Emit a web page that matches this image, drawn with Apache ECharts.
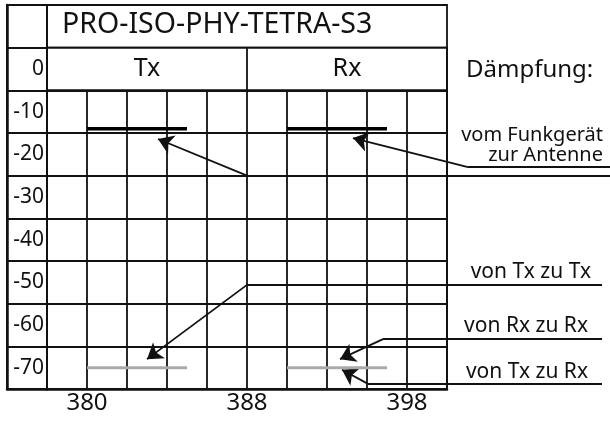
<!DOCTYPE html>
<html>
<head>
<meta charset="utf-8">
<script src="https://cdn.jsdelivr.net/npm/echarts@6/dist/echarts.min.js"></script>
<style>html,body{margin:0;padding:0;background:#fff;}#c{width:610px;height:421px;}</style>
</head>
<body>
<div id="c"></div>
<script>
// ---- data ----
const chartTitle = 'PRO-ISO-PHY-TETRA-S3';
const headerCats = ['Tx', 'Rx'];
const rowLabels = ['', '0', '-10', '-20', '-30', '-40', '-50', '-60', '-70']; // top to bottom
const dataRowLabels = ['-10', '-20', '-30', '-40', '-50', '-60', '-70'];
const xTickValues = [380, 388, 396];
const xTickTexts = ['380', '388', '398'];
const txBand = [380, 385];
const rxBand = [390, 395];
const antennaLevel = -14;   // vom Funkgerät zur Antenne
const isolationLevel = -70; // von Tx zu Rx etc.
const legendTitle = 'Dämpfung:';
const notes = ['vom Funkgerät\nzur Antenne', 'von Tx zu Tx', 'von Rx zu Rx', 'von Tx zu Rx'];
// leader lines (data units): horizontal part, then arrow part
const leaderFlat = [
  [[406.15, -25.0], [388.0, -25.0]],
  [[406.15, -23.0], [399.05, -23.0]],
  [[405.75, -50.6], [388.0, -50.6]],
  [[405.75, -63.3], [394.8, -63.3]],
  [[405.75, -73.8], [394.05, -73.8]]
];
const leaderArrow = [
  [[388.0, -25.0], [383.55, -16.4]],
  [[399.05, -23.0], [393.3, -16.2]],
  [[388.0, -50.6], [383.0, -68.0]],
  [[394.8, -63.3], [392.65, -68.0]],
  [[394.05, -73.8], [392.75, -70.5]]
];

// ---- chart ----
const F = '"Noto Sans", "DejaVu Sans", sans-serif';
const INK = '#111111';
const gl = { color: INK, width: 1.8 };
const H = 384 / 9;

const chart = echarts.init(document.getElementById('c'), null, { renderer: 'canvas' });
chart.setOption({
  animation: false,
  backgroundColor: '#fff',
  title: [
    { text: chartTitle, left: 62, top: 25, textAlign: 'left', textVerticalAlign: 'middle', padding: 0,
      textStyle: { fontFamily: F, fontSize: 28.5, fontWeight: 'normal', color: INK } },
    { text: legendTitle, left: 466, top: 70, textAlign: 'left', textVerticalAlign: 'middle', padding: 0,
      textStyle: { fontFamily: F, fontSize: 24, fontWeight: 'normal', color: INK } },
    { text: notes[0], left: 603, top: 145, textAlign: 'right', textVerticalAlign: 'middle', padding: 0,
      textStyle: { fontFamily: F, fontSize: 20, fontWeight: 'normal', color: INK, lineHeight: 20 } },
    { text: notes[1], left: 591, top: 272, textAlign: 'right', textVerticalAlign: 'middle', padding: 0,
      textStyle: { fontFamily: F, fontSize: 21, fontWeight: 'normal', color: INK } },
    { text: notes[2], left: 588, top: 326, textAlign: 'right', textVerticalAlign: 'middle', padding: 0,
      textStyle: { fontFamily: F, fontSize: 21, fontWeight: 'normal', color: INK } },
    { text: notes[3], left: 588, top: 372, textAlign: 'right', textVerticalAlign: 'middle', padding: 0,
      textStyle: { fontFamily: F, fontSize: 21, fontWeight: 'normal', color: INK } }
  ],
  grid: [
    { left: 7, top: 5, width: 40, height: 384, show: true, borderColor: INK, borderWidth: 1.8 },
    { left: 47, top: 5, width: 400, height: H, show: true, borderColor: INK, borderWidth: 1.8 },
    { left: 47, top: 5 + H, width: 400, height: H, show: true, borderColor: INK, borderWidth: 1.8 },
    { left: 47, top: 5 + 2 * H, width: 400, height: 7 * H, show: true, borderColor: INK, borderWidth: 1.8 }
  ],
  xAxis: [
    { gridIndex: 0, type: 'value', min: 0, max: 1, axisLine: { show: true, lineStyle: { color: INK, width: 2.5 } },
      axisTick: { show: false }, axisLabel: { show: false }, splitLine: { show: false } },
    { gridIndex: 1, type: 'value', show: false },
    { gridIndex: 2, type: 'category', data: headerCats, position: 'bottom',
      axisLine: { show: false }, axisTick: { show: false },
      splitLine: { show: true, interval: 0, lineStyle: gl },
      axisLabel: { inside: true, margin: H / 2, verticalAlign: 'middle', fontFamily: F, fontSize: 25, color: INK } },
    { gridIndex: 3, type: 'value', min: 378, max: 398, interval: 2,
      axisLine: { show: true, onZero: false, lineStyle: { color: INK, width: 2.5 } },
      axisTick: { show: false },
      splitLine: { show: true, lineStyle: gl },
      axisLabel: { margin: 2, fontFamily: F, fontSize: 24, color: INK,
        formatter: v => { const i = xTickValues.indexOf(v); return i >= 0 ? xTickTexts[i] : ''; } } }
  ],
  yAxis: [
    { gridIndex: 0, type: 'category', inverse: true, data: rowLabels, position: 'right',
      axisLine: { show: false }, axisTick: { show: false },
      splitLine: { show: true, interval: 0, lineStyle: gl },
      axisLabel: { inside: true, margin: 3, interval: 0, fontFamily: F, fontSize: 21, color: INK } },
    { gridIndex: 0, type: 'value', position: 'left', axisLine: { show: true, onZero: false, lineStyle: { color: INK, width: 2.5 } },
      axisTick: { show: false }, axisLabel: { show: false }, splitLine: { show: false } },
    { gridIndex: 1, type: 'value', show: false },
    { gridIndex: 2, type: 'value', show: false },
    { gridIndex: 3, type: 'value', min: -75, max: -5, show: false },
    { gridIndex: 3, type: 'category', inverse: true, data: dataRowLabels,
      axisLine: { show: false }, axisTick: { show: false }, axisLabel: { show: false },
      splitLine: { show: true, interval: 0, lineStyle: gl } }
  ],
  series: [
    { type: 'line', xAxisIndex: 3, yAxisIndex: 4, symbol: 'none', lineStyle: { color: '#000', width: 3.5 },
      data: [[txBand[0], antennaLevel], [txBand[1], antennaLevel]] },
    { type: 'line', xAxisIndex: 3, yAxisIndex: 4, symbol: 'none', lineStyle: { color: '#000', width: 3.5 },
      data: [[rxBand[0], antennaLevel], [rxBand[1], antennaLevel]] },
    { type: 'line', xAxisIndex: 3, yAxisIndex: 4, symbol: 'none', lineStyle: { color: '#aaaaaa', width: 3 },
      data: [[txBand[0], isolationLevel], [txBand[1], isolationLevel]] },
    { type: 'line', xAxisIndex: 3, yAxisIndex: 4, symbol: 'none', lineStyle: { color: '#aaaaaa', width: 3 },
      data: [[rxBand[0], isolationLevel], [rxBand[1], isolationLevel]] },
    { type: 'lines', coordinateSystem: 'cartesian2d', xAxisIndex: 3, yAxisIndex: 4, clip: false,
      symbol: 'none', lineStyle: { color: INK, width: 1.8, opacity: 1, curveness: 0 },
      data: leaderFlat.map(c => ({ coords: c })) },
    { type: 'lines', coordinateSystem: 'cartesian2d', xAxisIndex: 3, yAxisIndex: 4, clip: false,
      symbol: ['none', 'arrow'], symbolSize: [8, 15], symbolOffset: [0, '50%'],
      lineStyle: { color: INK, width: 1.8, opacity: 1, curveness: 0 },
      data: leaderArrow.map(c => ({ coords: c })) }
  ]
});
</script>
</body>
</html>
